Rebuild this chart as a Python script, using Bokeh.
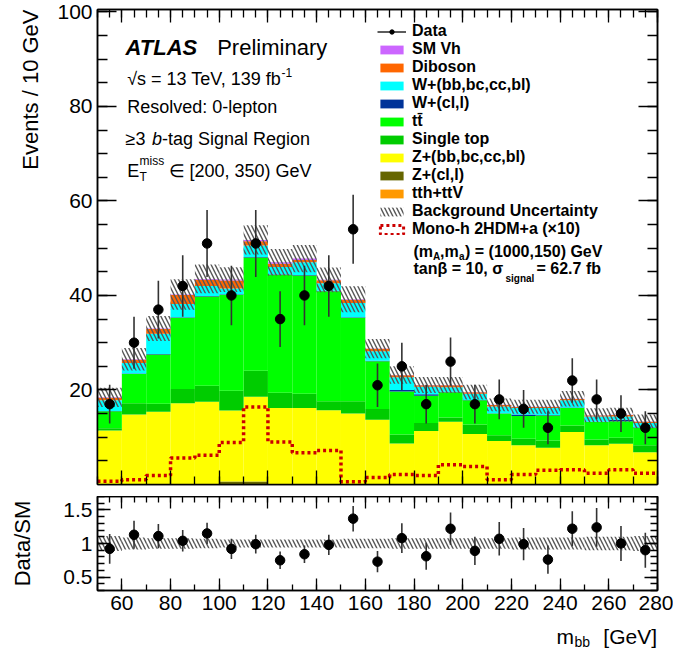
import numpy as np
from bokeh.plotting import figure
from bokeh.models import (Range1d, LinearAxis, FixedTicker, Label, Legend,
                          LegendItem, ColumnDataSource, Title,
                          CustomJSTickFormatter)
from bokeh.layouts import column
from bokeh.embed import file_html
from bokeh.resources import INLINE

FONT = "Liberation Sans"

# ---------------- data ----------------
bin_edges = [50, 60, 70, 80, 90, 100, 110, 120, 130, 140, 150, 160, 170, 180,
             190, 200, 210, 220, 230, 240, 250, 260, 270, 280]
data_counts = [17, 30, 37, 42, 51, 40, 51, 35, 40, 42, 54, 21, 25, 17, 26, 17,
               18, 16, 12, 22, 18, 15, 12]
data_err = [4.1, 5.5, 6.1, 6.5, 7.1, 6.3, 7.1, 5.9, 6.3, 6.5, 7.3, 4.6, 5.0,
            4.1, 5.1, 4.1, 4.2, 4.0, 3.5, 4.7, 4.2, 3.9, 3.5]

tth_ttv = [0.05, 0.05, 0.05, 0.05, 0.05, 0.05, 0.05, 0.05, 0.05, 0.05, 0.05,
           0.05, 0.05, 0.05, 0.05, 0.05, 0.05, 0.05, 0.05, 0.05, 0.05, 0.05, 0.05]
z_light = [0.05, 0.05, 0.05, 0.05, 0.05, 0.6, 0.6, 0.05, 0.05, 0.05, 0.05,
           0.05, 0.05, 0.05, 0.05, 0.05, 0.05, 0.05, 0.05, 0.05, 0.05, 0.05, 0.05]
z_hf = [11.3, 14.7, 15.3, 17.1, 17.4, 15.0, 17.9, 16.1, 16.1, 15.6, 14.9, 13.6,
        8.6, 11.2, 13.2, 10.6, 9.1, 8.2, 7.7, 11.0, 8.2, 8.5, 6.7]
single_top = [0.5, 2.4, 1.7, 3.0, 3.4, 4.2, 5.5, 3.2, 3.0, 1.9, 2.6, 2.3, 1.9,
              1.7, 0.9, 2.0, 1.2, 1.4, 1.5, 1.4, 1.2, 1.3, 1.5]
ttbar = [3.6, 6.2, 10.4, 15.1, 18.9, 20.3, 24.0, 25.0, 25.0, 23.3, 17.7, 10.1,
         9.1, 5.8, 5.3, 5.1, 4.6, 4.8, 5.3, 3.7, 3.7, 3.5, 3.7]
w_light = [0.05, 0.1, 0.1, 0.1, 0.1, 0.1, 0.1, 0.1, 0.1, 0.1, 0.1, 0.1, 0.3,
           0.3, 0.1, 0.1, 0.1, 0.3, 0.1, 0.1, 0.1, 0.3, 0.1]
w_hf = [2.3, 2.2, 4.3, 2.8, 2.1, 1.2, 2.4, 1.5, 2.7, 1.6, 3.0, 2.0, 2.7, 1.6,
        1.0, 1.3, 1.4, 1.4, 1.5, 1.5, 1.1, 0.7, 0.9]
diboson = [0.5, 0.7, 1.0, 1.9, 1.3, 1.7, 0.9, 0.7, 0.5, 0.6, 0.7, 0.5, 0.4,
           0.3, 0.4, 0.3, 0.3, 0.2, 0.2, 0.3, 0.2, 0.3, 0.3]
sm_vh = [0.1, 0.1, 0.1, 0.1, 0.2, 0.2, 0.3, 0.3, 0.3, 0.1, 0.1, 0.05, 0.05,
         0.05, 0.05, 0.05, 0.05, 0.05, 0.05, 0.05, 0.05, 0.05, 0.05]
bkg_unc_rel = [0.11, 0.09, 0.08, 0.08, 0.07, 0.06, 0.06, 0.06, 0.06, 0.06,
               0.07, 0.07, 0.08, 0.08, 0.08, 0.08, 0.08, 0.09, 0.09, 0.09,
               0.10, 0.10, 0.11]
signal_x10 = [0.7, 1.0, 1.9, 5.6, 6.2, 8.9, 16.4, 9.0, 6.7, 7.2, 0.6, 1.5, 2.1,
              1.9, 4.2, 3.8, 1.0, 2.1, 3.0, 3.1, 2.4, 3.1, 2.4]
ratio = [0.92, 1.13, 1.11, 1.04, 1.15, 0.92, 0.99, 0.75, 0.84, 0.98, 1.37, 0.73,
         1.08, 0.81, 1.22, 0.89, 1.07, 0.99, 0.76, 1.22, 1.24, 1.00, 0.90]
ratio_err = [0.22, 0.21, 0.18, 0.16, 0.16, 0.15, 0.14, 0.13, 0.13, 0.15, 0.19,
             0.16, 0.22, 0.20, 0.24, 0.21, 0.25, 0.24, 0.21, 0.26, 0.29, 0.26,
             0.26]

x_major = [60, 80, 100, 120, 140, 160, 180, 200, 220, 240, 260, 280]
y_major = [20, 40, 60, 80, 100]
r_major = [0.5, 1, 1.5]

stack_names = ["tth_ttv", "z_light", "z_hf", "single_top", "ttbar", "w_light",
               "w_hf", "diboson", "sm_vh"]
stack_labels = ["tth+ttV", "Z+(cl,l)", "Z+(bb,bc,cc,bl)", "Single top",
                "tt\u0304", "W+(cl,l)", "W+(bb,bc,cc,bl)", "Diboson", "SM Vh"]
stack_colors = ["#FF9900", "#666600", "#FFFF00", "#00CC00", "#00FF00",
                "#003399", "#00FFFF", "#FF6600", "#CC66FF"]

# ---------------- derived ----------------
edges = np.array(bin_edges, dtype=float)
centers = 0.5 * (edges[:-1] + edges[1:])
cols = dict(x=centers, tth_ttv=tth_ttv, z_light=z_light, z_hf=z_hf,
            single_top=single_top, ttbar=ttbar, w_light=w_light, w_hf=w_hf,
            diboson=diboson, sm_vh=sm_vh)
total = np.sum([np.array(cols[n]) for n in stack_names], axis=0)
unc = np.array(bkg_unc_rel)
dat = np.array(data_counts, float)
derr = np.array(data_err)
rat = np.array(ratio)
rerr = np.array(ratio_err)

# screen-pixel helpers for annotation placement
X0, X1 = 50.0, 280.0
FL, FR = 97.0, 657.0
MT, MB, YM = 9.0, 484.0, 100.5
RT, RB, R0, R1 = 496.0, 590.0, 0.3, 1.7
STRIP_TOP = 620.0


def sx(px):
    return X0 + (px - FL) * (X1 - X0) / (FR - FL)


def sy_main(py):
    return (MB - py) * YM / (MB - MT)


def sy_strip(py):
    return py - STRIP_TOP


def txt(fig, px, py, s, conv, size, style="normal", align="left",
        baseline="alphabetic", angle=0.0):
    fig.add_layout(Label(x=sx(px), y=conv(py), text=s, text_font=FONT,
                         text_font_size=f"{size}px", text_font_style=style,
                         text_align=align, text_baseline=baseline, angle=angle,
                         text_color="black"))


blank = CustomJSTickFormatter(code="return ''")


def style_axis(ax, ticks, minor, major_in, minor_in, labels=True):
    ax.ticker = FixedTicker(ticks=ticks, minor_ticks=minor)
    ax.major_tick_in = major_in
    ax.major_tick_out = 0
    ax.minor_tick_in = minor_in
    ax.minor_tick_out = 0
    ax.axis_line_color = "black"
    ax.axis_line_width = 1.5
    ax.major_tick_line_width = 1.3
    ax.minor_tick_line_width = 1.3
    ax.major_tick_line_color = "black"
    ax.minor_tick_line_color = "black"
    if labels:
        ax.major_label_text_font = FONT
        ax.major_label_text_font_size = "21px"
        ax.major_label_text_color = "black"
        ax.major_label_standoff = 5
    else:
        ax.formatter = blank
        ax.major_label_text_font_size = "1px"
        ax.major_label_standoff = 0


x_minor10 = list(range(50, 281, 10))
x_minor5 = list(range(50, 281, 5))
y_minor = list(range(5, 101, 5))
r_minor = [round(0.3 + 0.1 * i, 2) for i in range(15)]

# ---------------- main figure ----------------
xr = Range1d(X0, X1)
p = figure(width=673, height=496, x_range=xr, y_range=Range1d(0, YM),
           output_backend="svg", toolbar_location=None,
           min_border_left=97, min_border_right=16, min_border_top=9,
           min_border_bottom=12)
p.xgrid.visible = False
p.ygrid.visible = False
p.outline_line_color = "black"
p.outline_line_width = 1.5
p.background_fill_color = "white"
p.border_fill_color = "white"

style_axis(p.xaxis[0], x_major, x_minor10, 14, 8, labels=False)
style_axis(p.yaxis[0], y_major, y_minor, 19, 10, labels=True)
ax_top = LinearAxis()
style_axis(ax_top, x_major, x_minor5, 13, 8, labels=False)
p.add_layout(ax_top, "above")
ax_right = LinearAxis()
style_axis(ax_right, y_major, y_minor, 19, 10, labels=False)
p.add_layout(ax_right, "right")

p.add_layout(Title(text="Events / 10 GeV", align="right", text_font=FONT,
                   text_font_size="22px", text_font_style="normal",
                   text_color="black", standoff=23, offset=0), "left")

src = ColumnDataSource(cols)
stack_r = p.vbar_stack(stack_names, x="x", width=10, source=src,
                       color=stack_colors, line_color=None)

band_r = p.quad(left=edges[:-1], right=edges[1:], bottom=total * (1 - unc),
                top=total * (1 + unc), fill_alpha=0, line_color=None,
                hatch_pattern="\\", hatch_color="#555555", hatch_weight=1.4,
                hatch_scale=8)

sig_x = np.repeat(edges, 2)[1:-1]
sig_y = np.repeat(np.array(signal_x10), 2)
p.line(sig_x, sig_y, line_color="#CC0000", line_width=3.5, line_dash="3 3")
sig_leg = p.quad(left=[np.nan], right=[np.nan], bottom=[np.nan],
                 top=[np.nan], fill_alpha=0, line_color="#CC0000",
                 line_width=3, line_dash="3 3")

seg_r = p.segment(x0=centers, y0=dat - derr, x1=centers, y1=dat + derr,
                  line_color="#333333", line_width=1.6)
pts_r = p.scatter(centers, dat, size=9.5, color="black")

items = [LegendItem(label="Data", renderers=[seg_r, pts_r])]
for idx in range(len(stack_names) - 1, 0, -1):
    items.append(LegendItem(label=stack_labels[idx], renderers=[stack_r[idx]]))
items.append(LegendItem(label=stack_labels[0], renderers=[stack_r[0]]))
items.append(LegendItem(label="Background Uncertainty", renderers=[band_r]))
items.append(LegendItem(label="Mono-h 2HDM+a (\u00d710)", renderers=[sig_leg]))

legend = Legend(items=items, location=(280, 246), orientation="vertical",
                background_fill_alpha=0, border_line_color=None, padding=0,
                margin=0, spacing=0, glyph_width=29, glyph_height=11,
                label_standoff=6, label_height=18,
                label_text_font=FONT, label_text_font_size="16px",
                label_text_font_style="bold", label_text_color="black")
p.add_layout(legend)

# signal description lines
txt(p, 413, 250.7, "(m", sy_main, 16, "bold")
txt(p, 432.6, 256, "A", sy_main, 10, "bold")
txt(p, 439.5, 250.7, ",m", sy_main, 16, "bold")
txt(p, 458.5, 256, "a", sy_main, 10, "bold")
txt(p, 464.5, 250.7, ") = (1000,150) GeV", sy_main, 16, "bold")
txt(p, 413, 268.3, "tan\u03b2 = 10, \u03c3", sy_main, 16, "bold")
txt(p, 505, 278, "signal", sy_main, 10, "bold")
txt(p, 536, 268.3, " = 62.7 fb", sy_main, 16, "bold")

# ATLAS block
txt(p, 125, 46.7, "ATLAS", sy_main, 22, "bold italic")
txt(p, 216.7, 46.7, "Preliminary", sy_main, 22)
txt(p, 126.7, 78.3, "\u221as = 13 TeV, 139 fb", sy_main, 18)
txt(p, 281, 71.5, "-1", sy_main, 12)
txt(p, 126.7, 106.7, "Resolved: 0-lepton", sy_main, 18)
txt(p, 125, 138.3, "\u22653 ", sy_main, 18)
txt(p, 151.5, 138.3, "b", sy_main, 18, "italic")
txt(p, 161.5, 138.3, "-tag Signal Region", sy_main, 18)
txt(p, 126.7, 170, "E", sy_main, 18)
txt(p, 139, 160, "miss", sy_main, 12)
txt(p, 139, 176.7, "T", sy_main, 12)
txt(p, 168, 170, "\u2208 [200, 350) GeV", sy_main, 18)

# ---------------- ratio figure ----------------
r = figure(width=673, height=int(STRIP_TOP - RT), x_range=xr,
           y_range=Range1d(R0, R1), output_backend="svg",
           toolbar_location=None, min_border_left=97, min_border_right=16,
           min_border_top=0, min_border_bottom=int(STRIP_TOP - RB))
r.xgrid.visible = False
r.ygrid.visible = False
r.outline_line_color = "black"
r.outline_line_width = 1.5
r.background_fill_color = "white"
r.border_fill_color = "white"

style_axis(r.xaxis[0], x_major, x_minor10, 12, 6, labels=True)
style_axis(r.yaxis[0], r_major, r_minor, 13, 7, labels=True)
r.yaxis[0].major_label_overrides = {0.5: "0.5", 1: "1", 1.5: "1.5"}
r.yaxis[0].axis_label = "Data/SM"
r.yaxis[0].axis_label_text_font = FONT
r.yaxis[0].axis_label_text_font_size = "22px"
r.yaxis[0].axis_label_text_font_style = "normal"
r.yaxis[0].axis_label_text_color = "black"
r.yaxis[0].axis_label_standoff = 25
rt = LinearAxis()
style_axis(rt, x_major, x_minor5, 12, 6, labels=False)
r.add_layout(rt, "above")
rr = LinearAxis()
style_axis(rr, r_major, r_minor, 13, 7, labels=False)
r.add_layout(rr, "right")

r.quad(left=edges[:-1], right=edges[1:], bottom=1 - unc, top=1 + unc,
       fill_alpha=0, line_color=None, hatch_pattern="\\",
       hatch_color="#555555", hatch_weight=1.4, hatch_scale=8)
r.segment(x0=centers, y0=rat - rerr, x1=centers, y1=rat + rerr,
          line_color="#333333", line_width=1.6)
r.scatter(centers, rat, size=9.5, color="black")

# ---------------- strip for x-axis title ----------------
SH = 649 - int(STRIP_TOP)
s = figure(width=673, height=SH, x_range=xr, y_range=Range1d(SH, 0),
           output_backend="svg", toolbar_location=None, x_axis_type=None,
           y_axis_type=None, min_border_left=97, min_border_right=16,
           min_border_top=0, min_border_bottom=0)
s.xgrid.visible = False
s.ygrid.visible = False
s.outline_line_color = None
s.background_fill_color = "white"
s.border_fill_color = "white"

txt(s, 556, 636, "m", sy_strip, 21)
txt(s, 574, 641, "bb", sy_strip, 14)
txt(s, 656.5, 636, "[GeV]", sy_strip, 21, align="right")

layout = column(p, r, s, spacing=0)
open("out.html", "w").write(file_html(layout, INLINE))
